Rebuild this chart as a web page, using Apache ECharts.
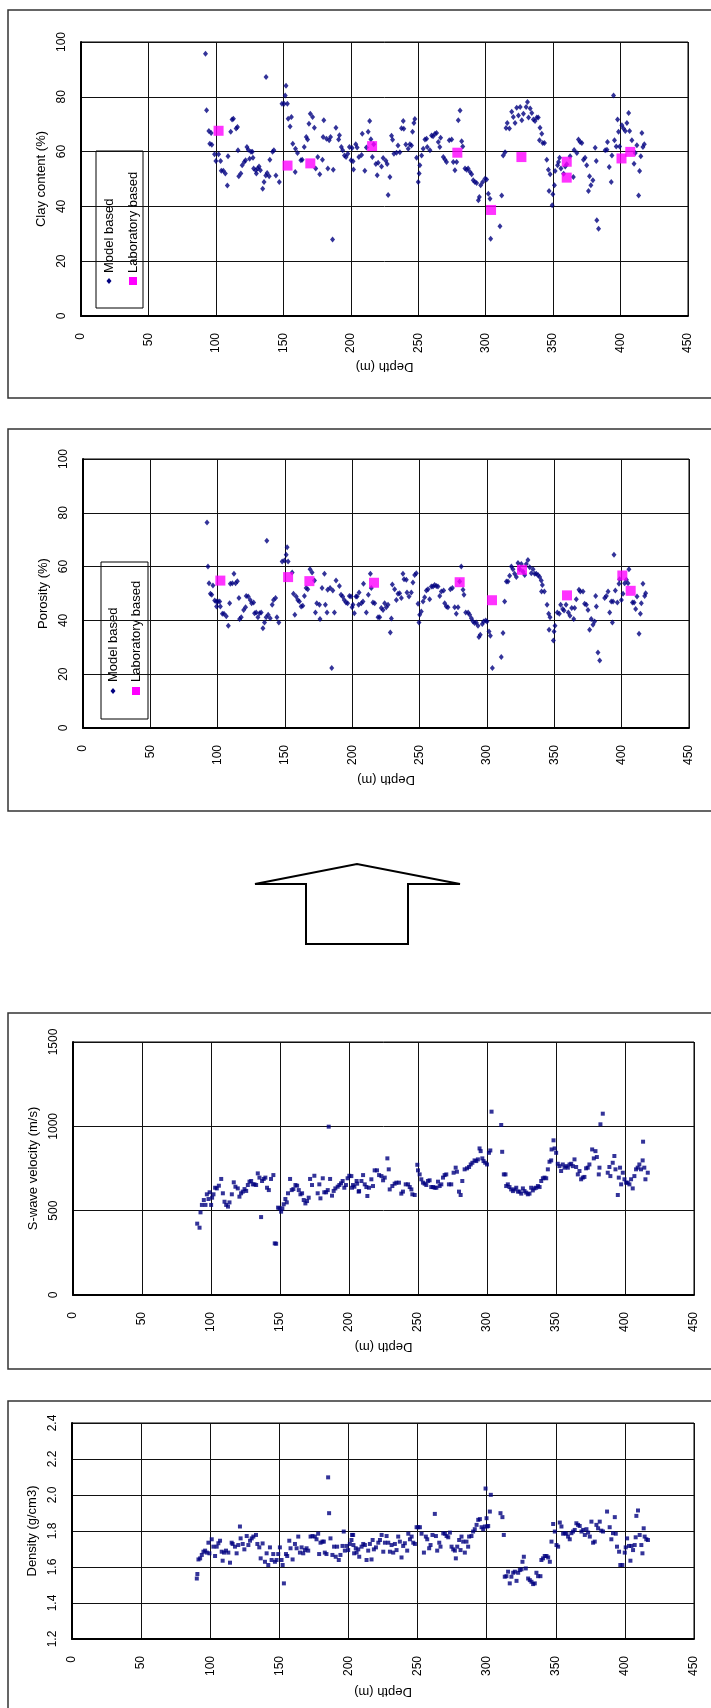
<!DOCTYPE html>
<html>
<head>
<meta charset="utf-8">
<title>Depth profiles</title>
<script src="https://cdn.jsdelivr.net/npm/echarts@6/dist/echarts.min.js"></script>
<style>
  html, body { margin: 0; padding: 0; background: #fff; }
  #chart { width: 711px; height: 1708px; }
</style>
</head>
<body>
<div id="chart"></div>
<script>
// Depth (m) and value pairs for each log.
const clayModel = [
  [92.3,95.7],[93.1,75.1],[94.8,67.5],[95.5,62.9],[96.5,66.8],[97,62.5],[99,59],[100,56.6],[102,59],[103.5,56.6],
  [104,53],[105.5,53],[107,52],[108.5,47.6],[109,58.3],[111,67.2],[112,71.7],[113,72],[115,68.4],[116,69],
  [116.4,60.5],[117,51],[118.5,52],[119.5,55],[121,56.2],[122,56.8],[123,61.7],[124,60.7],[125,57.4],[126,59.9],
  [127,59.9],[127.5,57.8],[128,53.8],[129.5,53.2],[130,52],[131,53.8],[132,54.6],[133,53.2],[134.7,46.4],[135.7,48.9],
  [137,51.3],[137.2,87.2],[138,52.2],[139.5,51],[140,57],[142,59.9],[143,60.5],[144.5,51.3],[147,48.9],[149,77.5],
  [150.6,77.5],[151.4,80.5],[152,84],[153,77.5],[153.6,72],[155,69.2],[156,72.6],[157,62.9],[158.8,52.6],[159,61],
  [160.5,59.5],[163,56.8],[164,57],[165.5,61.7],[167,65.3],[168,64.4],[169,70.2],[170,73.8],[171.7,72.6],[173,68.7],
  [174,53.8],[175.5,58],[177,51.7],[179,57],[179.5,65.3],[180,71.4],[182,64.7],[183,53.8],[184,64.1],[185,65.3],
  [186.5,27.9],[187,53.4],[189,68.7],[191,64.4],[191.6,66],[193,61.7],[194,60.5],[195.3,58.6],[196.5,58],[197.8,59.2],
  [199,61.7],[200.2,56.8],[201,61.3],[201.7,56.5],[202,53.5],[203.7,62.7],[204.7,61.5],[206,58],[208,58.8],[208.5,66.5],
  [210.4,53],[211.6,61.5],[212.9,67.2],[214,71.2],[214.9,64.5],[216,58],[217,62.7],[218.6,55.5],[219.6,51.4],[220.3,55.9],
  [222.8,54.6],[224,57.7],[226,56.7],[227,55.5],[227.7,44.2],[229,50.7],[230.2,65.8],[231,64.3],[232,59.2],[233.9,59.6],
  [235,62.2],[236.4,59.8],[237.6,68.5],[238.9,71.2],[239.3,68.3],[240.8,62.6],[242.6,61],[243.8,62.7],[245,62.2],[245.8,67.2],
  [246.8,70.4],[247.5,71.9],[248.8,57.8],[250,48.9],[250.7,52],[251.2,55],[252.5,58.6],[253.7,61],[255,64.4],[256.2,64.7],
  [256.7,61.7],[258.7,60.5],[259.9,65.9],[261,65.6],[262.4,66.5],[263.6,66.8],[264.9,63.5],[266,61.7],[266.6,65.1],[268.6,58],
  [269.8,57.1],[271,56.2],[273,64.1],[274.8,64.4],[276,56.2],[277.2,53.2],[278.5,56.2],[279.7,71.4],[281,75],[282.2,63.8],
  [283,61.9],[284.7,53.8],[285.9,53.4],[287,53.8],[288.4,52.6],[289.6,51.7],[290.8,49.5],[292,48.9],[293.3,48.5],[294.6,42.2],
  [295.3,43.4],[296.3,47.7],[297.8,48.9],[299.5,50.1],[300.7,49.8],[302,44.6],[303.2,42.8],[303.7,28.2],[310.6,32.8],[311.9,44],
  [313,58.6],[314.4,59.8],[315.1,68.6],[316,70.4],[317.6,68.4],[319.3,74.5],[320.5,72.6],[321.8,70.4],[323,76],[324.3,73.2],
  [325.6,76.3],[326.8,71.4],[328,73.8],[330,76.3],[331,78.1],[331.8,72.4],[333,75.7],[334.2,74.1],[335.4,71.7],[336.6,71.2],
  [337.9,72.4],[339,72.4],[339.9,64.1],[340.3,68.7],[341.6,66.5],[342.3,63.1],[343.6,63.1],[345.3,57],[346.5,53.4],[347,45.6],
  [347.8,51.7],[349.3,40.4],[349.8,44.4],[351,47.7],[351.5,52.9],[353.3,55],[354,56.2],[354.8,57.8],[355.8,53.8],[357.8,51.9],
  [359,54.6],[360.1,55.4],[362.6,58.3],[365,50.7],[365.6,60.6],[367.6,59.5],[368.8,64.4],[370,63.5],[371.3,63.1],[372.5,57],
  [373.7,57.8],[374.9,55],[376.2,45.6],[377,51],[378,47.7],[379.5,49.5],[381.2,61.4],[382,56.6],[382.4,34.9],[383.7,31.8],
  [388.6,60.5],[389.9,60.7],[390.3,63.5],[391.6,54.4],[393.1,48.9],[393.6,58.6],[394.8,80.5],[395.5,64.1],[396.8,61.9],[397.8,71.7],
  [398.5,67.2],[399.3,61.9],[401,69.6],[402.2,68.4],[403.5,67.5],[404.7,70.4],[406,74.1],[406.7,67.5],[408.4,64.1],[410,55.6],
  [410.9,59.5],[412.1,62.3],[413.4,44],[414.1,52.9],[415,58.3],[415.8,66.8],[416.6,61.7],[417.6,62.7]
];
const clayLab = [
  [102,67.6],[153.1,54.9],[170,55.7],[215.8,62],[279,59.6],[304,38.7],[326.5,58],[360.1,56.3],[360.1,50.5],[400.7,57.5],[407.2,59.9]
];

const porosityModel = [
  [92.1,76.4],[92.8,60],[93.6,53.8],[94.6,49.9],[95.6,49.5],[96.5,53],[97.8,47.4],[99,47],[99.2,45.2],[100.2,47],
  [101.5,47],[102,45.2],[103.5,42.5],[104.7,42.5],[106.4,41.5],[107.9,38],[108.9,46.4],[109.4,53.6],[110.9,53.8],[112.1,57.3],
  [113.3,53.8],[114.6,54.6],[115.8,48.3],[116.3,40.5],[117.5,41.2],[119.3,43.9],[120.7,44.9],[121.2,49.1],[122.7,48.9],[124.2,47.6],
  [125.2,46.4],[126.7,46.7],[127.4,42.7],[128.6,42.9],[129.9,41.2],[131.1,42.7],[132.3,42.9],[133.6,37.1],[134.8,39.2],[136,41.2],
  [136.5,69.6],[137.5,42.1],[139,40.8],[140.5,45.8],[141.5,47.6],[143,48.3],[144,41.2],[145.4,39.2],[147.9,61.9],[149.6,62.3],
  [150.9,64.4],[151.6,67.2],[152.3,61.9],[155.3,57.8],[156.3,49.9],[157.3,42.1],[158.3,48.9],[159.5,47.6],[160.7,47],[162,45.2],
  [163.2,45.4],[164.4,49.1],[165.7,52],[166.9,51.6],[168.6,59],[170.1,57.8],[171.9,54.8],[172.6,42.9],[173.6,46.4],[175.6,45.8],
  [176,40.5],[177.5,52],[179.3,57.3],[180,45.8],[181.2,42.9],[181.7,51.4],[183.5,52],[184.7,22.3],[185.5,51.1],[186.7,42.9],
  [187.9,54.8],[190.4,52.8],[191.6,49.5],[192.8,48.9],[194,47.6],[195.3,46.7],[196.5,46.4],[197.8,49.1],[199,48.9],[199.8,44.9],
  [200.5,45.8],[201.5,42.7],[202.7,48.9],[203.5,48.9],[204.7,45.8],[205,50.4],[206.7,46.4],[207.9,47],[208.3,53.6],[210.4,42.9],
  [211.9,49.5],[213.4,57.3],[214.1,52],[215.3,46.7],[216.6,46.4],[219.1,41.2],[220.3,41.2],[221.5,44.6],[222.8,43.9],[224,46.4],
  [225.2,44.9],[226.5,45.8],[228.2,35.5],[229,40.7],[229.7,53.3],[231.4,51.6],[232.7,47.6],[233.9,49.9],[235.1,50.1],[236.4,48.3],
  [237.6,57.3],[238.4,55.3],[240.1,55.1],[240.6,50.4],[242.1,48.9],[243.8,50.4],[245,54.1],[246.3,56.9],[247.5,57.5],[248.8,46.2],
  [249.5,39.2],[250,42.1],[251.2,43.3],[252.5,47],[253.7,48.6],[255,51.1],[256.2,51.6],[257.4,47.9],[258.7,52.6],[259.9,52.6],
  [261.1,53.2],[262.4,52.8],[263.6,52.6],[264.9,49.1],[266.1,50.7],[267.8,51.1],[268.6,46.4],[269.8,45.2],[271,44.9],[272.8,51.6],
  [274.3,52],[276,44.9],[277.2,42.5],[278.5,44.9],[279.7,54.5],[280.9,60],[282.2,51.4],[282.9,49.5],[284.2,42.9],[286,42.9],
  [287.1,42.1],[288.4,40.8],[289.6,39.6],[290.8,39],[292,39.2],[293.3,38],[294,33.8],[295,34.7],[296.5,38.7],[297.5,39.6],
  [299,40],[300,39.6],[301.5,35.9],[302.5,34.3],[304,22.3],[310.6,26.4],[311.9,35.3],[313.1,47],[314.4,54.5],[315.6,54.5],
  [316.8,56.6],[318.1,60],[319.3,59],[320.5,57.3],[321.8,56.1],[323,61.3],[324.3,59],[325.5,61],[326.7,58.2],[328,56.9],
  [329.2,61],[330.4,62.5],[331.7,59.8],[332.9,57.5],[334.2,59],[335.4,57.3],[336.6,57.3],[337.9,56.9],[339.1,56.1],[340.3,54.8],
  [340.5,50.7],[341.1,53.2],[342.6,50.7],[344.6,45.8],[345.8,42.5],[346.1,36.5],[346.8,41.2],[349.3,32.5],[349.8,35.9],[350.5,38],
  [352.2,42.9],[353.7,42.5],[354.7,45.8],[356.2,44.2],[357.2,43.7],[358.7,45.8],[360.4,42.9],[361.6,41.7],[362.9,44.6],[364.4,40.5],
  [365.1,44.6],[366.3,47.9],[368.3,51.4],[369.3,50.7],[371.3,50.7],[372.5,46.2],[373.8,45.8],[375,43.9],[376.2,36.5],[377.4,40.5],
  [378.7,38.4],[379.9,39.6],[380.7,49.1],[381.2,45.2],[382.4,28.1],[383.7,25.1],[387.4,48.3],[388.6,49.1],[389.9,50.7],[391.1,42.9],
  [392.3,47],[393.1,39.2],[393.6,47],[394.3,64.4],[395.3,51.1],[396.8,46.7],[398,53.6],[398.5,55.3],[399.8,47.6],[401,49.9],
  [402.2,53.8],[403.5,55.1],[404.7,53.8],[405.4,59],[408,46.7],[409.2,46.7],[410.4,44.2],[411.4,48.9],[412.9,35],[413.9,42.5],
  [414.6,46.4],[415.8,53.6],[417.1,49.1],[417.8,50.1]
];
const porosityLab = [
  [102,54.8],[152.3,56.1],[168.1,54.6],[216.1,54],[279.7,54.2],[303.7,47.5],[326,58.8],[359.4,49.3],[400.5,56.7],[406.7,51]
];

const vsData = [
  [90,423],[91.7,399],[92.4,490],[93.4,534],[94.8,563],[96,534],[97,597],[98.2,569],[99,609],[100.1,534],
  [100.8,577],[101.8,597],[103,636],[104.2,632],[105.7,648],[107.4,688],[108.6,603],[109.8,553],[111,534],[112.3,524],
  [113.4,549],[115.1,597],[116.5,668],[117.7,642],[119.4,632],[120.6,583],[121.8,603],[123,613],[124.3,628],[125.5,617],
  [126.7,652],[127.9,672],[129.1,676],[130.3,656],[131.5,656],[132.7,652],[133.9,721],[135.1,696],[136.3,462],[137,676],
  [138.2,688],[139.4,696],[140.6,636],[141.9,622],[143.5,688],[145.2,711],[146.2,306],[147.2,304],[148.6,518],[149.6,514],
  [150.8,494],[151.7,514],[152.7,538],[153.9,569],[154.9,549],[155.8,603],[157.3,688],[158.5,622],[159.7,628],[161.2,652],
  [162.4,648],[163.6,622],[164.8,597],[166,603],[167.2,563],[168.4,543],[169.6,557],[170.8,577],[171.8,688],[173.2,652],
  [174.9,707],[177.3,603],[178.5,656],[179.3,573],[181,692],[182.1,609],[183.4,609],[184.6,622],[185.3,998],[186.3,688],
  [187.7,589],[188.9,617],[190.1,632],[191.8,642],[193,652],[194.2,662],[195.4,676],[196.6,636],[197.8,652],[199,692],
  [200.2,707],[201.7,705],[202.2,636],[202.9,652],[203.9,642],[205.5,676],[205.9,660],[207,613],[207.3,616],[209,676],
  [210.2,711],[211.4,656],[212.6,640],[213.3,587],[214.5,636],[216.2,686],[217.4,646],[218.6,739],[220.3,739],[221.8,711],
  [223.5,705],[224.7,680],[225.9,696],[227.8,810],[228.8,745],[229.5,626],[231.4,646],[233.1,660],[234.3,666],[236.2,666],
  [237.9,601],[239.1,613],[241.1,656],[242.8,656],[244,640],[245.2,626],[245.9,597],[247.6,593],[249.5,772],[250,739],
  [251.2,715],[252.4,686],[253.6,666],[254.8,660],[256,652],[257.2,676],[258.4,680],[259.6,640],[260.9,640],[262.1,636],
  [263.3,636],[264.5,672],[265.7,646],[266.9,656],[268.1,696],[269.3,711],[270.5,715],[272.4,656],[274.1,656],[275.8,725],
  [277.3,755],[278.2,731],[279.7,613],[280.9,593],[282.1,676],[283.8,745],[285.5,751],[287,759],[288.2,774],[289.4,784],
  [291,798],[292.2,794],[293.4,804],[294.6,869],[295.4,853],[296.6,810],[297.5,794],[298.7,784],[300,774],[301.4,843],
  [302.4,857],[303.3,1087],[310.3,1008],[311,849],[312.2,715],[313.4,715],[313.9,646],[315.1,656],[316.3,640],[317.5,626],
  [318.8,616],[320,626],[321.2,636],[322.4,613],[323.6,613],[324.8,601],[326,632],[327.2,616],[328.4,607],[329.6,597],
  [330.8,601],[332,636],[333.2,620],[334.4,632],[335.6,636],[336.9,646],[338.1,640],[339.3,676],[340.5,692],[341.7,696],
  [342.9,692],[344.1,745],[345.3,790],[346.5,798],[346.8,863],[348.2,917],[349,869],[350.1,843],[351.3,778],[352.5,764],
  [353.7,735],[354.9,774],[356.2,755],[357.4,764],[358.6,755],[359.8,774],[361,778],[362.2,764],[363.4,804],[364.6,759],
  [365.8,715],[367,735],[368.2,686],[369.4,696],[370.6,700],[371.8,751],[373,755],[374.2,774],[376.2,863],[377.4,810],
  [378.6,853],[379.6,818],[381,715],[381.5,755],[382.2,1012],[383.9,1075],[387.5,725],[388.7,759],[389.4,705],[391.1,784],
  [392.3,824],[393.1,745],[394.8,593],[395.5,696],[396.4,755],[397.2,656],[398.4,725],[399.6,686],[400.8,666],[402,666],
  [403.2,656],[404.4,686],[405.6,632],[406.8,705],[408,745],[409.2,755],[410.4,774],[411.6,745],[412.8,798],[413.1,909],
  [414,755],[414.8,686],[416.5,725]
];

const densityData = [
  [90.3,1.536],[90.7,1.561],[91.5,1.642],[92.7,1.648],[93.9,1.667],[95.1,1.685],[96.3,1.691],[97.5,1.68],[98.7,1.735],[99.4,1.676],
  [101.1,1.754],[102.3,1.713],[103.5,1.661],[104.7,1.713],[105.9,1.732],[107.1,1.746],[108.3,1.685],[109,1.635],[110,1.68],[111.4,1.691],
  [113.1,1.68],[114.3,1.624],[115.5,1.735],[116.2,1.728],[117.9,1.713],[119.1,1.676],[120.3,1.722],[121.5,1.825],[122,1.759],[123.5,1.728],
  [124.7,1.698],[126.4,1.772],[127.6,1.722],[128.8,1.746],[130,1.759],[131.2,1.769],[133.1,1.778],[134.1,1.728],[135.5,1.709],[136.5,1.648],
  [137.9,1.731],[139.6,1.629],[140.8,1.676],[142,1.611],[143.2,1.709],[144.4,1.639],[145.6,1.672],[146.8,1.629],[148,1.639],[149.2,1.672],
  [150.4,1.709],[151.6,1.639],[152.4,1.611],[153.3,1.509],[154.8,1.672],[155.7,1.661],[157.2,1.746],[158.1,1.704],[159.6,1.642],[161.3,1.728],
  [162.5,1.704],[163.7,1.769],[164.9,1.68],[166.1,1.709],[167.3,1.676],[168.5,1.694],[169.7,1.704],[170.9,1.691],[172.6,1.769],[174,1.772],
  [175.7,1.769],[176.9,1.754],[178.1,1.785],[178.8,1.672],[179.8,1.735],[181.2,1.741],[182.2,1.741],[182.9,1.68],[184.1,1.672],[185.3,2.098],
  [186,1.899],[187,1.759],[188.4,1.667],[189.6,1.713],[190.8,1.657],[191.8,1.713],[193,1.639],[194.2,1.667],[195.7,1.717],[196.6,1.797],
  [197.4,1.691],[198.6,1.717],[199.8,1.694],[201,1.728],[202.2,1.75],[202.6,1.778],[203.4,1.778],[203.6,1.722],[204.1,1.676],[205.3,1.704],
  [205.9,1.68],[207.1,1.698],[207.8,1.657],[209.5,1.713],[210.7,1.728],[211.9,1.722],[213.1,1.639],[214.3,1.691],[215.5,1.728],[216.7,1.642],
  [217.5,1.75],[218.4,1.698],[219.9,1.709],[221.6,1.735],[222.8,1.75],[224,1.778],[225.2,1.685],[226.4,1.735],[227.6,1.772],[228.8,1.735],
  [230,1.685],[231.2,1.722],[232.4,1.68],[233.6,1.728],[234.8,1.694],[236,1.769],[237.2,1.741],[238.4,1.653],[239.6,1.717],[240.8,1.732],
  [242.5,1.691],[243.3,1.785],[244.5,1.754],[245.7,1.769],[246.9,1.735],[248.1,1.728],[249.3,1.821],[250.5,1.821],[251.7,1.821],[252.9,1.785],
  [254.6,1.68],[256,1.769],[257,1.754],[258.4,1.704],[259.4,1.722],[260.8,1.778],[262.5,1.895],[263.3,1.772],[264.2,1.691],[265.7,1.735],
  [266.6,1.713],[268.6,1.787],[269.8,1.785],[271,1.772],[272.2,1.765],[273.4,1.791],[274.6,1.713],[275.8,1.698],[277,1.691],[277.7,1.648],
  [278.7,1.713],[280.1,1.75],[281.1,1.694],[281.8,1.769],[283,1.741],[284.2,1.68],[285.4,1.741],[286.6,1.713],[287.3,1.769],[289,1.772],
  [290.2,1.797],[291.4,1.81],[292.7,1.834],[293.9,1.862],[295.1,1.866],[296.3,1.821],[297.5,1.81],[298.7,1.825],[299.2,2.036],[299.9,1.871],
  [300.4,1.825],[301.1,1.828],[302.3,1.908],[303,2.001],[310,1.899],[311.4,1.877],[312.4,1.778],[313.1,1.546],[314.3,1.549],[315.5,1.574],
  [316.7,1.509],[317.9,1.546],[319.2,1.568],[320.4,1.574],[321.6,1.523],[322.8,1.568],[324,1.583],[325.2,1.587],[325.9,1.629],[326.9,1.657],
  [328.3,1.592],[330,1.536],[331.2,1.527],[332.4,1.518],[333.6,1.505],[334.8,1.509],[336,1.568],[337.2,1.549],[338.9,1.549],[339.6,1.639],
  [340.8,1.648],[342,1.661],[343.3,1.661],[344.5,1.653],[345.7,1.629],[346.9,1.741],[348.1,1.839],[349.3,1.797],[350.5,1.722],[351.7,1.713],
  [352.9,1.847],[354.1,1.825],[355.3,1.785],[356.5,1.788],[357.7,1.785],[358.9,1.769],[360.1,1.754],[361.3,1.788],[362.5,1.797],[363.7,1.806],
  [364.9,1.843],[366.1,1.834],[367.3,1.828],[368.6,1.797],[369.8,1.806],[371,1.778],[372.2,1.81],[373.4,1.791],[374.6,1.769],[375.8,1.852],
  [377,1.735],[378.2,1.741],[379.4,1.834],[380.6,1.815],[381.8,1.852],[383,1.802],[384.2,1.797],[387.1,1.908],[389,1.821],[390.2,1.754],
  [391.4,1.788],[392.7,1.877],[393.4,1.785],[394.3,1.713],[395.8,1.685],[396.7,1.611],[398.2,1.611],[399.9,1.68],[400.6,1.709],[401.6,1.759],
  [403,1.717],[404,1.635],[404.7,1.717],[405.9,1.694],[407.1,1.722],[407.8,1.765],[408.3,1.884],[409.5,1.914],[410.7,1.778],[411.9,1.722],
  [412.7,1.676],[413.6,1.815],[414.3,1.769],[415.5,1.754],[416.7,1.75]
];

// Axis titles and legend entries.
const depthTitle = 'Depth (m)';
const yTitles = ['Clay content (%)', 'Porosity (%)', 'S-wave velocity (m/s)', 'Density (g/cm3)'];
const legendNames = ['Model based', 'Laboratory based'];

const FONT = '"Liberation Sans", Arial, sans-serif';
const NAVY = '#000080';
const MAGENTA = '#FF00FF';
const INK = '#000';

const grids = [
  { left: 81, top: 42, width: 607, height: 274 },
  { left: 83, top: 459, width: 606, height: 269 },
  { left: 73, top: 1042, width: 621, height: 253 },
  { left: 72, top: 1423, width: 622, height: 216 }
].map(g => Object.assign({ show: true, backgroundColor: '#fff', borderColor: INK, borderWidth: 1, containLabel: false }, g));

function xAxisFor(i, nameGap) {
  return {
    type: 'value', gridIndex: i, min: 0, max: 450, interval: 50,
    name: depthTitle, nameLocation: 'middle', nameGap: nameGap, nameRotate: 180,
    nameTextStyle: { fontFamily: FONT, fontSize: 13, color: INK },
    axisLine: { show: true, onZero: false, lineStyle: { color: INK, width: 2 } },
    axisTick: { show: false },
    axisLabel: { rotate: 90, margin: 17, fontFamily: FONT, fontSize: 12, color: INK, formatter: v => String(v) },
    splitLine: { show: true, lineStyle: { color: '#111', width: 1 } }
  };
}
function yAxisFor(i, min, max, interval, nameGap, decimals) {
  return {
    type: 'value', gridIndex: i, min: min, max: max, interval: interval,
    name: yTitles[i], nameLocation: 'middle', nameGap: nameGap,
    nameTextStyle: { fontFamily: FONT, fontSize: 13, color: INK },
    axisLine: { show: true, onZero: false, lineStyle: { color: INK, width: 2 } },
    axisTick: { show: false },
    axisLabel: { rotate: 90, margin: 13, fontFamily: FONT, fontSize: 12, color: INK,
      formatter: v => v.toFixed(decimals) },
    splitLine: { show: true, lineStyle: { color: '#111', width: 1 } }
  };
}

// Legend box drawn inside a plot: model diamond + lab square, text reading upward.
function legendGraphic(box, col1, col2, textY, keyY) {
  return {
    type: 'group', z: 50,
    children: [
      { type: 'rect', shape: { x: box.x, y: box.y, width: box.w, height: box.h },
        style: { fill: '#fff', stroke: INK, lineWidth: 1 } },
      { type: 'text', x: col1, y: textY, rotation: Math.PI / 2,
        style: { text: legendNames[0], font: '13px ' + FONT, fill: INK, align: 'left', verticalAlign: 'middle' } },
      { type: 'text', x: col2, y: textY, rotation: Math.PI / 2,
        style: { text: legendNames[1], font: '13px ' + FONT, fill: INK, align: 'left', verticalAlign: 'middle' } },
      { type: 'polygon', shape: { points: [[col1, keyY - 3], [col1 + 2.5, keyY], [col1, keyY + 3], [col1 - 2.5, keyY]] },
        style: { fill: NAVY } },
      { type: 'rect', shape: { x: col2 - 4, y: keyY - 4, width: 8, height: 8 }, style: { fill: MAGENTA } }
    ]
  };
}

function frame(y0, y1) {
  return { type: 'rect', z: -10, shape: { x: 8, y: y0, width: 740, height: y1 - y0 },
    style: { fill: 'none', stroke: '#333', lineWidth: 1.5 } };
}

const option = {
  animation: false,
  backgroundColor: '#fff',
  grid: grids,
  xAxis: [xAxisFor(0, 44), xAxisFor(1, 45), xAxisFor(2, 45), xAxisFor(3, 46)],
  yAxis: [
    yAxisFor(0, 0, 100, 20, 32, 0),
    yAxisFor(1, 0, 100, 20, 32, 0),
    yAxisFor(2, 0, 1500, 500, 33, 0),
    yAxisFor(3, 1.2, 2.4, 0.2, 33, 1)
  ],
  series: [
    { type: 'scatter', name: legendNames[0], xAxisIndex: 0, yAxisIndex: 0, data: clayModel,
      symbol: 'diamond', symbolSize: [5, 6], itemStyle: { color: NAVY }, z: 3 },
    { type: 'scatter', name: legendNames[1], xAxisIndex: 0, yAxisIndex: 0, data: clayLab,
      symbol: 'rect', symbolSize: 10, itemStyle: { color: MAGENTA }, z: 4 },
    { type: 'scatter', name: legendNames[0], xAxisIndex: 1, yAxisIndex: 1, data: porosityModel,
      symbol: 'diamond', symbolSize: [5, 6], itemStyle: { color: NAVY }, z: 3 },
    { type: 'scatter', name: legendNames[1], xAxisIndex: 1, yAxisIndex: 1, data: porosityLab,
      symbol: 'rect', symbolSize: 10, itemStyle: { color: MAGENTA }, z: 4 },
    { type: 'scatter', name: 'S-wave velocity', xAxisIndex: 2, yAxisIndex: 2, data: vsData,
      symbol: 'rect', symbolSize: 4, itemStyle: { color: NAVY }, z: 3 },
    { type: 'scatter', name: 'Density', xAxisIndex: 3, yAxisIndex: 3, data: densityData,
      symbol: 'rect', symbolSize: 4, itemStyle: { color: NAVY }, z: 3 }
  ],
  graphic: [
    frame(10, 398),
    frame(429, 811),
    frame(1013, 1369),
    frame(1401, 1740),
    legendGraphic({ x: 96, y: 151, w: 47, h: 157 }, 109, 133, 273, 281),
    legendGraphic({ x: 101, y: 562, w: 47, h: 157 }, 113, 136, 682, 691),
    // Block arrow pointing up between the two groups of plots.
    { type: 'polygon', shape: { points: [[255, 884], [357, 864], [460, 884], [408, 884], [408, 944], [306, 944], [306, 884]] },
      style: { fill: '#fff', stroke: INK, lineWidth: 2 } }
  ]
};

const chart = echarts.init(document.getElementById('chart'), null, { renderer: 'canvas' });
chart.setOption(option);
</script>
</body>
</html>
